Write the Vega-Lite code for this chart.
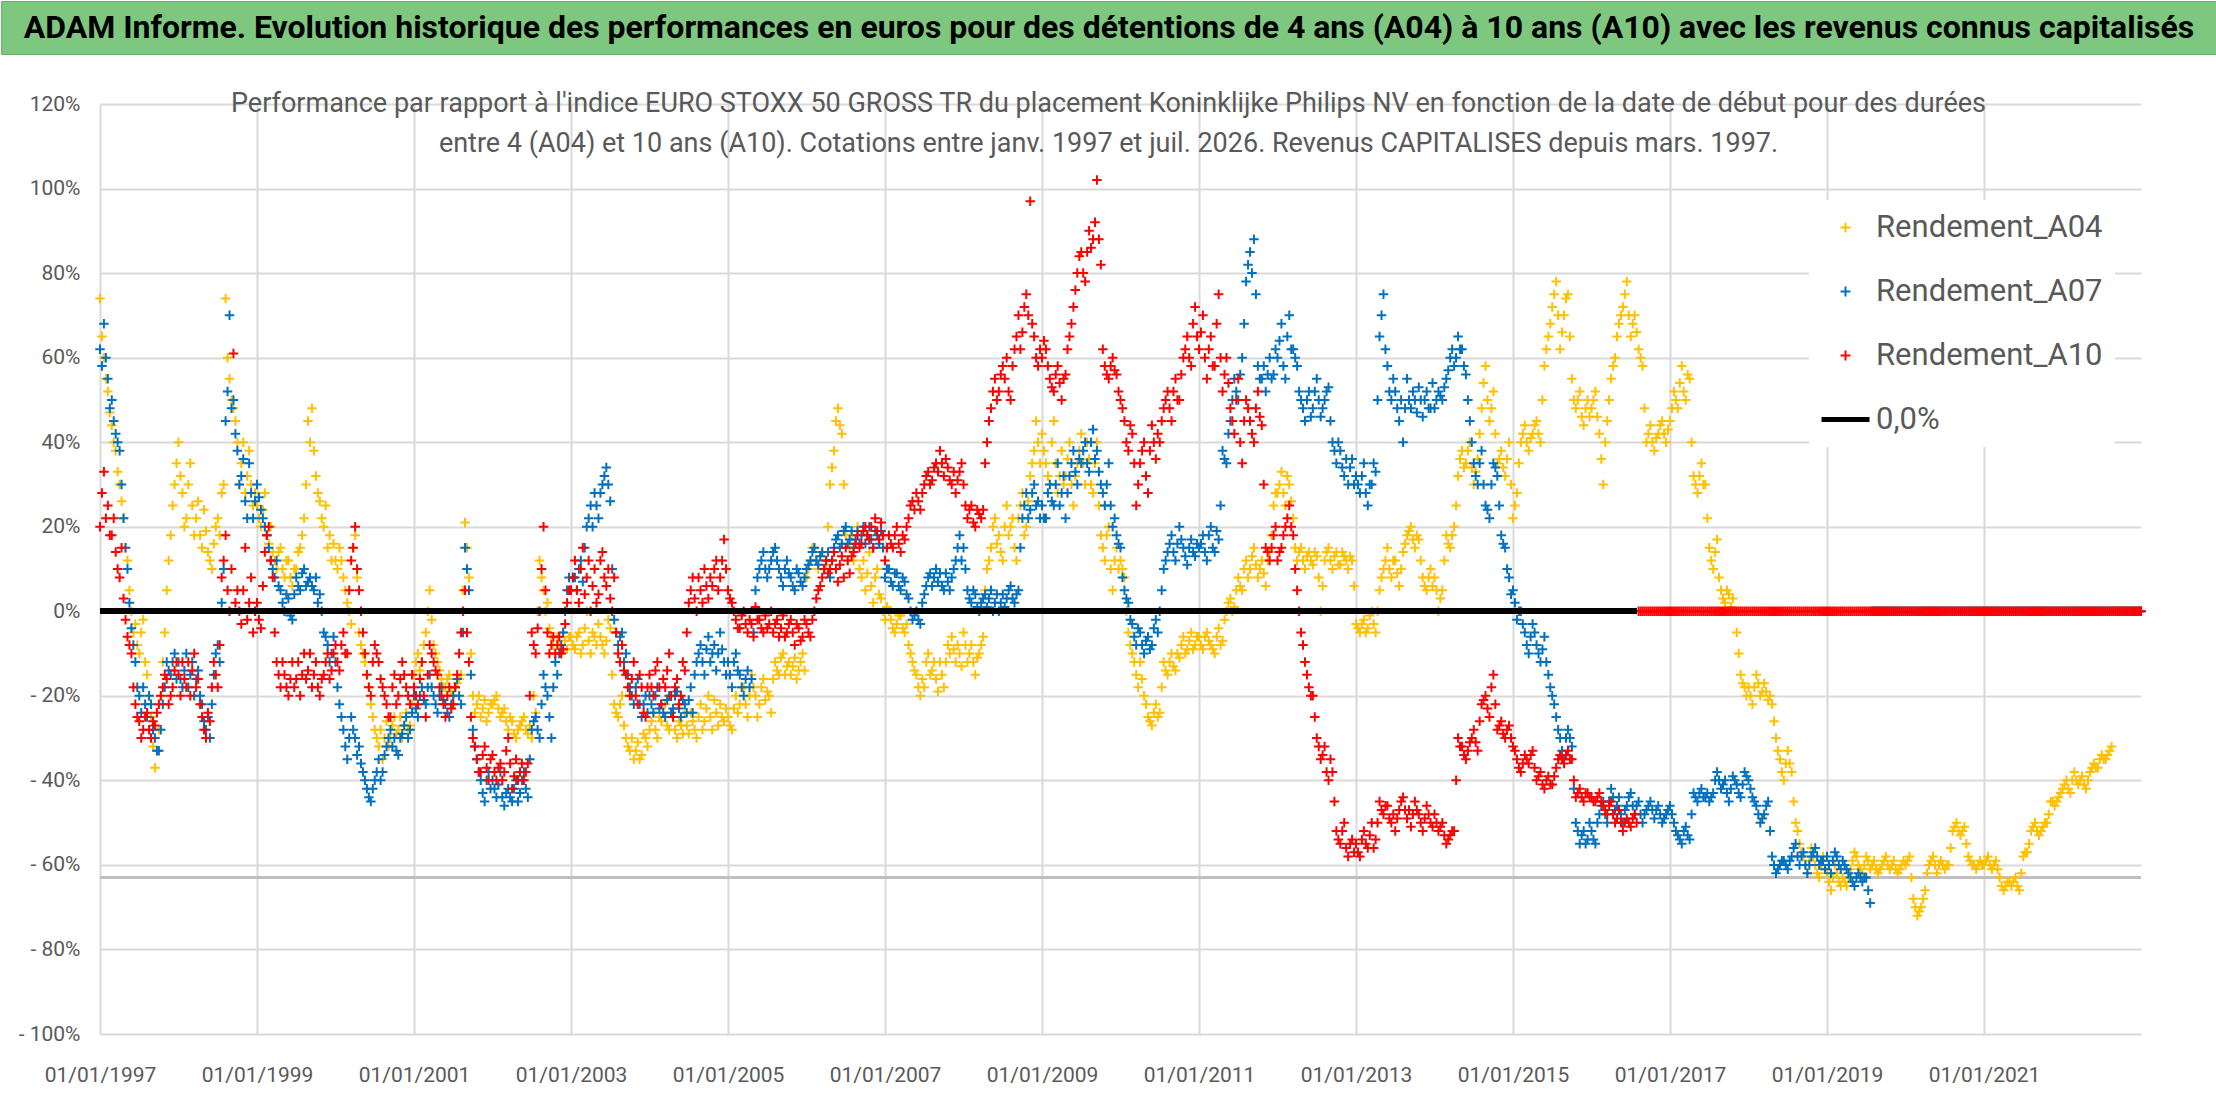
{
  "$schema": "https://vega.github.io/schema/vega-lite/v6.json",
  "padding": 0,
  "background": "white",
  "spacing": 50,
  "bounds": "flush",
  "config": {
    "view": {"stroke": null},
    "font": "Roboto",
    "axis": {"labelFont": "Roboto", "labelColor": "#595959", "labelFontSize": 21},
    "legend": {"labelFont": "Roboto"}
  },
  "vconcat": [
    {
      "width": 2216,
      "height": 53,
      "view": {"fill": "#7dc87e", "stroke": "#6bb36c"},
      "data": {"values": [{}]},
      "mark": {
        "type": "text",
        "text": "ADAM Informe. Evolution historique des performances en euros pour des détentions de 4 ans (A04) à 10 ans (A10) avec les revenus connus capitalisés",
        "font": "Roboto",
        "fontWeight": "bold",
        "fontSize": 32,
        "color": "#000000",
        "align": "center",
        "baseline": "middle"
      }
    },
    {
      "spacing": 0,
      "bounds": "flush",
      "hconcat": [
        {
          "width": 99,
          "height": 930,
          "data": {"values": [{}]},
          "mark": {"type": "text", "text": ""}
        },
        {
          "width": 2041,
          "height": 930,
          "title": {
            "text": [
              "Performance par rapport à l'indice EURO STOXX 50 GROSS TR  du placement Koninklijke Philips NV en fonction de la date de début pour des durées",
              "entre 4 (A04) et 10 ans (A10). Cotations entre janv. 1997 et juil. 2026. Revenus CAPITALISES depuis mars. 1997."
            ],
            "anchor": "middle",
            "frame": "group",
            "offset": -65,
            "dx": -12,
            "font": "Roboto",
            "fontSize": 27,
            "fontWeight": "normal",
            "color": "#595959",
            "lineHeight": 40
          },
          "data": {
            "values": [
              {"t":1997,"a":74,"b":62,"c":20},{"t":1997.05,"a":60,"b":68,"c":33},{"t":1997.1,"a":52,"b":55,"c":25},{"t":1997.15,"a":44,"b":50,"c":18},{"t":1997.2,"a":38,"b":42,"c":14},
              {"t":1997.25,"a":30,"b":38,"c":8},{"t":1997.3,"a":22,"b":22,"c":3},{"t":1997.35,"a":12,"b":10,"c":-6},{"t":1997.4,"a":0,"b":-4,"c":-10},{"t":1997.45,"a":-3,"b":-12,"c":-22},
              {"t":1997.5,"a":-10,"b":-20,"c":-26},{"t":1997.55,"a":-2,"b":-18,"c":-28},{"t":1997.6,"a":-15,"b":-25,"c":-24},{"t":1997.65,"a":-25,"b":-22,"c":-30},{"t":1997.7,"a":-37,"b":-30,"c":-27},
              {"t":1997.75,"a":-28,"b":-33,"c":-22},{"t":1997.8,"a":-12,"b":-22,"c":-18},{"t":1997.85,"a":5,"b":-12,"c":-16},{"t":1997.9,"a":18,"b":-15,"c":-20},{"t":1997.95,"a":30,"b":-10,"c":-14},
              {"t":1998,"a":40,"b":-12,"c":-15},{"t":1998.05,"a":28,"b":-18,"c":-12},{"t":1998.1,"a":22,"b":-10,"c":-18},{"t":1998.15,"a":35,"b":-15,"c":-20},{"t":1998.2,"a":18,"b":-20,"c":-10},
              {"t":1998.25,"a":26,"b":-14,"c":-16},{"t":1998.3,"a":15,"b":-22,"c":-25},{"t":1998.35,"a":19,"b":-28,"c":-30},{"t":1998.4,"a":12,"b":-30,"c":-26},{"t":1998.45,"a":16,"b":-15,"c":-12},
              {"t":1998.5,"a":22,"b":-8,"c":-18},{"t":1998.55,"a":28,"b":2,"c":8},{"t":1998.6,"a":74,"b":45,"c":18},{"t":1998.65,"a":55,"b":70,"c":0},{"t":1998.7,"a":48,"b":50,"c":61},
              {"t":1998.75,"a":40,"b":38,"c":5},{"t":1998.8,"a":35,"b":32,"c":-3},{"t":1998.85,"a":28,"b":26,"c":15},{"t":1998.9,"a":38,"b":35,"c":2},{"t":1998.95,"a":25,"b":22,"c":-5},
              {"t":1999,"a":25,"b":30,"c":2},{"t":1999.05,"a":20,"b":24,"c":-4},{"t":1999.1,"a":28,"b":20,"c":14},{"t":1999.15,"a":16,"b":15,"c":20},{"t":1999.2,"a":14,"b":10,"c":8},
              {"t":1999.25,"a":10,"b":12,"c":-12},{"t":1999.3,"a":15,"b":5,"c":-18},{"t":1999.35,"a":8,"b":0,"c":-15},{"t":1999.4,"a":12,"b":3,"c":-20},{"t":1999.45,"a":6,"b":-2,"c":-12},
              {"t":1999.5,"a":10,"b":8,"c":-16},{"t":1999.55,"a":15,"b":5,"c":-20},{"t":1999.6,"a":22,"b":10,"c":-10},{"t":1999.65,"a":45,"b":7,"c":-14},{"t":1999.7,"a":48,"b":6,"c":-18},
              {"t":1999.75,"a":32,"b":8,"c":-12},{"t":1999.8,"a":26,"b":4,"c":-20},{"t":1999.85,"a":20,"b":-5,"c":-15},{"t":1999.9,"a":15,"b":-8,"c":-10},{"t":1999.95,"a":12,"b":-10,"c":-14},
              {"t":2000,"a":12,"b":-12,"c":-8},{"t":2000.05,"a":15,"b":-22,"c":-14},{"t":2000.1,"a":8,"b":-28,"c":-5},{"t":2000.15,"a":2,"b":-35,"c":-10},{"t":2000.2,"a":-3,"b":-25,"c":12},
              {"t":2000.25,"a":18,"b":-30,"c":20},{"t":2000.3,"a":-5,"b":-32,"c":5},{"t":2000.35,"a":-10,"b":-38,"c":-5},{"t":2000.4,"a":-15,"b":-42,"c":-15},{"t":2000.45,"a":-22,"b":-45,"c":-20},
              {"t":2000.5,"a":-28,"b":-40,"c":-8},{"t":2000.55,"a":-32,"b":-35,"c":-12},{"t":2000.6,"a":-35,"b":-38,"c":-18},{"t":2000.65,"a":-26,"b":-32,"c":-22},{"t":2000.7,"a":-30,"b":-28,"c":-25},
              {"t":2000.75,"a":-25,"b":-30,"c":-15},{"t":2000.8,"a":-28,"b":-34,"c":-20},{"t":2000.85,"a":-30,"b":-29,"c":-12},{"t":2000.9,"a":-24,"b":-25,"c":-18},{"t":2000.95,"a":-27,"b":-28,"c":-22},
              {"t":2001,"a":-15,"b":-20,"c":-18},{"t":2001.05,"a":-10,"b":-25,"c":-22},{"t":2001.1,"a":-12,"b":-18,"c":-12},{"t":2001.15,"a":-5,"b":-22,"c":-25},{"t":2001.2,"a":5,"b":-15,"c":-8},
              {"t":2001.25,"a":-8,"b":-20,"c":-12},{"t":2001.3,"a":-12,"b":-24,"c":-15},{"t":2001.35,"a":-16,"b":-18,"c":-20},{"t":2001.4,"a":-18,"b":-22,"c":-25},{"t":2001.45,"a":-15,"b":-25,"c":-18},
              {"t":2001.5,"a":-20,"b":-20,"c":-22},{"t":2001.55,"a":-17,"b":-16,"c":-15},{"t":2001.6,"a":-15,"b":-22,"c":-5},{"t":2001.65,"a":21,"b":15,"c":5},{"t":2001.7,"a":8,"b":5,"c":-12},
              {"t":2001.75,"a":-20,"b":-28,"c":-30},{"t":2001.8,"a":-22,"b":-35,"c":-35},{"t":2001.85,"a":-25,"b":-40,"c":-38},{"t":2001.9,"a":-21,"b":-45,"c":-32},{"t":2001.95,"a":-24,"b":-38,"c":-40},
              {"t":2002,"a":-22,"b":-40,"c":-34},{"t":2002.05,"a":-20,"b":-44,"c":-40},{"t":2002.1,"a":-25,"b":-38,"c":-36},{"t":2002.15,"a":-23,"b":-46,"c":-38},{"t":2002.2,"a":-28,"b":-42,"c":-30},
              {"t":2002.25,"a":-26,"b":-45,"c":-42},{"t":2002.3,"a":-30,"b":-40,"c":-35},{"t":2002.35,"a":-27,"b":-43,"c":-38},{"t":2002.4,"a":-25,"b":-38,"c":-40},{"t":2002.45,"a":-29,"b":-44,"c":-36},
              {"t":2002.5,"a":-30,"b":-28,"c":-5},{"t":2002.55,"a":-24,"b":-25,"c":-10},{"t":2002.6,"a":12,"b":-30,"c":0},{"t":2002.65,"a":5,"b":-15,"c":20},{"t":2002.7,"a":2,"b":-20,"c":-5},
              {"t":2002.75,"a":-6,"b":-30,"c":-8},{"t":2002.8,"a":-10,"b":-12,"c":-10},{"t":2002.85,"a":-8,"b":-10,"c":-6},{"t":2002.9,"a":-5,"b":-5,"c":-9},{"t":2002.95,"a":-9,"b":5,"c":2},
              {"t":2003,"a":-6,"b":5,"c":5},{"t":2003.05,"a":-9,"b":8,"c":12},{"t":2003.1,"a":-5,"b":10,"c":2},{"t":2003.15,"a":-8,"b":7,"c":15},{"t":2003.2,"a":0,"b":20,"c":8},
              {"t":2003.25,"a":-10,"b":25,"c":0},{"t":2003.3,"a":-6,"b":28,"c":10},{"t":2003.35,"a":-3,"b":22,"c":4},{"t":2003.4,"a":-8,"b":30,"c":14},{"t":2003.45,"a":-7,"b":34,"c":6},
              {"t":2003.5,"a":-4,"b":26,"c":3},{"t":2003.55,"a":-22,"b":-2,"c":8},{"t":2003.6,"a":-25,"b":-8,"c":-10},{"t":2003.65,"a":-20,"b":-5,"c":-8},{"t":2003.7,"a":-30,"b":-10,"c":-15},
              {"t":2003.75,"a":-33,"b":-18,"c":-20},{"t":2003.8,"a":-35,"b":-22,"c":-12},{"t":2003.85,"a":-31,"b":-16,"c":-22},{"t":2003.9,"a":-34,"b":-25,"c":-18},{"t":2003.95,"a":-30,"b":-20,"c":-25},
              {"t":2004,"a":-28,"b":-20,"c":-15},{"t":2004.05,"a":-24,"b":-24,"c":-20},{"t":2004.1,"a":-30,"b":-18,"c":-12},{"t":2004.15,"a":-26,"b":-22,"c":-22},{"t":2004.2,"a":-22,"b":-25,"c":-18},
              {"t":2004.25,"a":-28,"b":-20,"c":-10},{"t":2004.3,"a":-25,"b":-23,"c":-25},{"t":2004.35,"a":-30,"b":-19,"c":-16},{"t":2004.4,"a":-27,"b":-25,"c":-20},{"t":2004.45,"a":-24,"b":-22,"c":-14},
              {"t":2004.5,"a":-29,"b":-21,"c":2},{"t":2004.55,"a":-26,"b":-24,"c":8},{"t":2004.6,"a":-30,"b":-12,"c":0},{"t":2004.65,"a":-22,"b":-8,"c":5},{"t":2004.7,"a":-26,"b":-15,"c":10},
              {"t":2004.75,"a":-20,"b":-6,"c":3},{"t":2004.8,"a":-28,"b":-10,"c":6},{"t":2004.85,"a":-24,"b":-14,"c":12},{"t":2004.9,"a":-22,"b":-5,"c":8},{"t":2004.95,"a":-26,"b":-12,"c":17},
              {"t":2005,"a":-25,"b":-12,"c":5},{"t":2005.05,"a":-28,"b":-18,"c":2},{"t":2005.1,"a":-20,"b":-10,"c":-2},{"t":2005.15,"a":-22,"b":-15,"c":-4},{"t":2005.2,"a":-18,"b":-20,"c":0},
              {"t":2005.25,"a":-25,"b":-14,"c":-5},{"t":2005.3,"a":-15,"b":-16,"c":-3},{"t":2005.35,"a":-20,"b":5,"c":1},{"t":2005.4,"a":-22,"b":10,"c":-2},{"t":2005.45,"a":-16,"b":14,"c":-5},
              {"t":2005.5,"a":-19,"b":8,"c":-4},{"t":2005.55,"a":-24,"b":12,"c":0},{"t":2005.6,"a":-12,"b":15,"c":-3},{"t":2005.65,"a":-15,"b":10,"c":-6},{"t":2005.7,"a":-10,"b":6,"c":-1},
              {"t":2005.75,"a":-13,"b":12,"c":-5},{"t":2005.8,"a":-15,"b":8,"c":-2},{"t":2005.85,"a":-11,"b":5,"c":-8},{"t":2005.9,"a":-14,"b":9,"c":-4},{"t":2005.95,"a":-10,"b":6,"c":-6},
              {"t":2006,"a":8,"b":10,"c":-3},{"t":2006.05,"a":12,"b":12,"c":-6},{"t":2006.1,"a":15,"b":15,"c":0},{"t":2006.15,"a":10,"b":11,"c":5},{"t":2006.2,"a":14,"b":14,"c":8},
              {"t":2006.25,"a":11,"b":12,"c":12},{"t":2006.3,"a":30,"b":8,"c":10},{"t":2006.35,"a":38,"b":15,"c":14},{"t":2006.4,"a":48,"b":18,"c":7},{"t":2006.45,"a":42,"b":16,"c":13},
              {"t":2006.5,"a":18,"b":20,"c":15},{"t":2006.55,"a":15,"b":17,"c":9},{"t":2006.6,"a":12,"b":15,"c":14},{"t":2006.65,"a":20,"b":19,"c":18},{"t":2006.7,"a":8,"b":18,"c":16},
              {"t":2006.75,"a":5,"b":16,"c":20},{"t":2006.8,"a":14,"b":20,"c":17},{"t":2006.85,"a":2,"b":15,"c":15},{"t":2006.9,"a":10,"b":18,"c":19},{"t":2006.95,"a":3,"b":19,"c":21},
              {"t":2007,"a":-2,"b":8,"c":12},{"t":2007.05,"a":0,"b":10,"c":18},{"t":2007.1,"a":-4,"b":6,"c":15},{"t":2007.15,"a":-3,"b":9,"c":20},{"t":2007.2,"a":-1,"b":5,"c":14},
              {"t":2007.25,"a":-5,"b":7,"c":17},{"t":2007.3,"a":-8,"b":3,"c":22},{"t":2007.35,"a":-12,"b":-2,"c":26},{"t":2007.4,"a":-15,"b":0,"c":28},{"t":2007.45,"a":-20,"b":-3,"c":24},
              {"t":2007.5,"a":-18,"b":4,"c":30},{"t":2007.55,"a":-10,"b":8,"c":33},{"t":2007.6,"a":-14,"b":6,"c":31},{"t":2007.65,"a":-16,"b":10,"c":35},{"t":2007.7,"a":-12,"b":9,"c":38},
              {"t":2007.75,"a":-18,"b":5,"c":32},{"t":2007.8,"a":-8,"b":7,"c":34},{"t":2007.85,"a":-6,"b":8,"c":30},{"t":2007.9,"a":-12,"b":12,"c":28},{"t":2007.95,"a":-10,"b":18,"c":33},
              {"t":2008,"a":-5,"b":15,"c":30},{"t":2008.05,"a":-12,"b":5,"c":22},{"t":2008.1,"a":-8,"b":2,"c":25},{"t":2008.15,"a":-15,"b":4,"c":20},{"t":2008.2,"a":-10,"b":0,"c":23},
              {"t":2008.25,"a":-6,"b":3,"c":24},{"t":2008.3,"a":10,"b":1,"c":40},{"t":2008.35,"a":15,"b":5,"c":48},{"t":2008.4,"a":22,"b":2,"c":55},{"t":2008.45,"a":18,"b":0,"c":52},
              {"t":2008.5,"a":12,"b":4,"c":58},{"t":2008.55,"a":25,"b":3,"c":60},{"t":2008.6,"a":20,"b":6,"c":50},{"t":2008.65,"a":15,"b":2,"c":62},{"t":2008.7,"a":22,"b":5,"c":70},
              {"t":2008.75,"a":28,"b":22,"c":66},{"t":2008.8,"a":20,"b":28,"c":75},{"t":2008.85,"a":32,"b":24,"c":97},{"t":2008.9,"a":38,"b":30,"c":65},{"t":2008.95,"a":40,"b":26,"c":58},
              {"t":2009,"a":42,"b":25,"c":60},{"t":2009.05,"a":35,"b":22,"c":62},{"t":2009.1,"a":30,"b":30,"c":55},{"t":2009.15,"a":45,"b":25,"c":52},{"t":2009.2,"a":28,"b":35,"c":58},
              {"t":2009.25,"a":38,"b":28,"c":50},{"t":2009.3,"a":32,"b":22,"c":56},{"t":2009.35,"a":40,"b":32,"c":65},{"t":2009.4,"a":25,"b":38,"c":72},{"t":2009.45,"a":35,"b":30,"c":80},
              {"t":2009.5,"a":42,"b":35,"c":85},{"t":2009.55,"a":30,"b":40,"c":78},{"t":2009.6,"a":36,"b":33,"c":90},{"t":2009.65,"a":28,"b":43,"c":88},{"t":2009.7,"a":40,"b":38,"c":102},
              {"t":2009.75,"a":18,"b":30,"c":82},{"t":2009.8,"a":12,"b":25,"c":58},{"t":2009.85,"a":20,"b":35,"c":55},{"t":2009.9,"a":5,"b":20,"c":60},{"t":2009.95,"a":15,"b":18,"c":56},
              {"t":2010,"a":12,"b":15,"c":50},{"t":2010.05,"a":8,"b":5,"c":45},{"t":2010.1,"a":-5,"b":2,"c":38},{"t":2010.15,"a":-10,"b":-3,"c":42},{"t":2010.2,"a":-15,"b":-8,"c":25},
              {"t":2010.25,"a":-12,"b":-5,"c":35},{"t":2010.3,"a":-20,"b":-10,"c":40},{"t":2010.35,"a":-25,"b":-6,"c":28},{"t":2010.4,"a":-27,"b":-8,"c":44},{"t":2010.45,"a":-22,"b":-2,"c":36},
              {"t":2010.5,"a":-24,"b":0,"c":40},{"t":2010.55,"a":-12,"b":10,"c":48},{"t":2010.6,"a":-15,"b":14,"c":52},{"t":2010.65,"a":-10,"b":18,"c":45},{"t":2010.7,"a":-14,"b":12,"c":55},
              {"t":2010.75,"a":-11,"b":20,"c":50},{"t":2010.8,"a":-6,"b":15,"c":60},{"t":2010.85,"a":-9,"b":11,"c":65},{"t":2010.9,"a":-5,"b":17,"c":58},{"t":2010.95,"a":-8,"b":13,"c":72},
              {"t":2011,"a":-6,"b":15,"c":62},{"t":2011.05,"a":-9,"b":18,"c":70},{"t":2011.1,"a":-5,"b":12,"c":55},{"t":2011.15,"a":-8,"b":20,"c":65},{"t":2011.2,"a":-10,"b":14,"c":58},
              {"t":2011.25,"a":-4,"b":17,"c":75},{"t":2011.3,"a":-7,"b":38,"c":52},{"t":2011.35,"a":0,"b":35,"c":60},{"t":2011.4,"a":3,"b":45,"c":48},{"t":2011.45,"a":1,"b":55,"c":42},
              {"t":2011.5,"a":8,"b":50,"c":55},{"t":2011.55,"a":5,"b":60,"c":35},{"t":2011.6,"a":12,"b":78,"c":50},{"t":2011.65,"a":10,"b":85,"c":45},{"t":2011.7,"a":15,"b":88,"c":40},
              {"t":2011.75,"a":8,"b":58,"c":52},{"t":2011.8,"a":12,"b":55,"c":44},{"t":2011.85,"a":6,"b":52,"c":15},{"t":2011.9,"a":14,"b":60,"c":12},{"t":2011.95,"a":25,"b":56,"c":18},
              {"t":2012,"a":28,"b":60,"c":12},{"t":2012.05,"a":33,"b":68,"c":15},{"t":2012.1,"a":25,"b":55,"c":20},{"t":2012.15,"a":30,"b":70,"c":25},{"t":2012.2,"a":22,"b":62,"c":18},
              {"t":2012.25,"a":12,"b":58,"c":5},{"t":2012.3,"a":15,"b":50,"c":-5},{"t":2012.35,"a":10,"b":45,"c":-12},{"t":2012.4,"a":14,"b":52,"c":-18},{"t":2012.45,"a":11,"b":48,"c":-20},
              {"t":2012.5,"a":13,"b":55,"c":-30},{"t":2012.55,"a":0,"b":46,"c":-35},{"t":2012.6,"a":12,"b":50,"c":-32},{"t":2012.65,"a":15,"b":53,"c":-40},{"t":2012.7,"a":10,"b":40,"c":-38},
              {"t":2012.75,"a":14,"b":35,"c":-52},{"t":2012.8,"a":11,"b":38,"c":-55},{"t":2012.85,"a":13,"b":32,"c":-50},{"t":2012.9,"a":10,"b":30,"c":-58},{"t":2012.95,"a":12,"b":36,"c":-54},
              {"t":2013,"a":-3,"b":32,"c":-55},{"t":2013.05,"a":-5,"b":28,"c":-58},{"t":2013.1,"a":-2,"b":35,"c":-52},{"t":2013.15,"a":-4,"b":25,"c":-56},{"t":2013.2,"a":0,"b":30,"c":-50},
              {"t":2013.25,"a":-5,"b":33,"c":-54},{"t":2013.3,"a":5,"b":65,"c":-45},{"t":2013.35,"a":10,"b":75,"c":-48},{"t":2013.4,"a":15,"b":58,"c":-46},{"t":2013.45,"a":8,"b":50,"c":-50},
              {"t":2013.5,"a":12,"b":52,"c":-52},{"t":2013.55,"a":6,"b":45,"c":-47},{"t":2013.6,"a":14,"b":40,"c":-44},{"t":2013.65,"a":18,"b":55,"c":-49},{"t":2013.7,"a":20,"b":48,"c":-51},
              {"t":2013.75,"a":15,"b":50,"c":-45},{"t":2013.8,"a":17,"b":53,"c":-48},{"t":2013.85,"a":8,"b":46,"c":-52},{"t":2013.9,"a":5,"b":52,"c":-46},{"t":2013.95,"a":10,"b":48,"c":-50},
              {"t":2014,"a":8,"b":48,"c":-48},{"t":2014.05,"a":0,"b":52,"c":-52},{"t":2014.1,"a":5,"b":50,"c":-50},{"t":2014.15,"a":18,"b":55,"c":-55},{"t":2014.2,"a":15,"b":60,"c":-53},
              {"t":2014.25,"a":20,"b":58,"c":-52},{"t":2014.3,"a":32,"b":65,"c":-30},{"t":2014.35,"a":38,"b":62,"c":-32},{"t":2014.4,"a":35,"b":56,"c":-35},{"t":2014.45,"a":40,"b":45,"c":-31},
              {"t":2014.5,"a":30,"b":35,"c":-28},{"t":2014.55,"a":36,"b":30,"c":-33},{"t":2014.6,"a":48,"b":38,"c":-22},{"t":2014.65,"a":58,"b":25,"c":-20},{"t":2014.7,"a":45,"b":22,"c":-25},
              {"t":2014.75,"a":52,"b":35,"c":-15},{"t":2014.8,"a":35,"b":32,"c":-28},{"t":2014.85,"a":38,"b":18,"c":-26},{"t":2014.9,"a":32,"b":15,"c":-30},{"t":2014.95,"a":40,"b":8,"c":-27},
              {"t":2015,"a":22,"b":5,"c":-32},{"t":2015.05,"a":28,"b":-2,"c":-35},{"t":2015.1,"a":40,"b":0,"c":-38},{"t":2015.15,"a":44,"b":-5,"c":-34},{"t":2015.2,"a":38,"b":-10,"c":-36},
              {"t":2015.25,"a":42,"b":-3,"c":-33},{"t":2015.3,"a":45,"b":-8,"c":-40},{"t":2015.35,"a":40,"b":-12,"c":-38},{"t":2015.4,"a":58,"b":-6,"c":-42},{"t":2015.45,"a":65,"b":-15,"c":-39},
              {"t":2015.5,"a":72,"b":-20,"c":-41},{"t":2015.55,"a":78,"b":-25,"c":-37},{"t":2015.6,"a":62,"b":-30,"c":-34},{"t":2015.65,"a":70,"b":-35,"c":-36},{"t":2015.7,"a":75,"b":-28,"c":-33},
              {"t":2015.75,"a":55,"b":-32,"c":-35},{"t":2015.8,"a":48,"b":-50,"c":-44},{"t":2015.85,"a":52,"b":-55,"c":-42},{"t":2015.9,"a":44,"b":-52,"c":-45},{"t":2015.95,"a":50,"b":-54,"c":-43},
              {"t":2016,"a":48,"b":-52,"c":-44},{"t":2016.05,"a":52,"b":-55,"c":-45},{"t":2016.1,"a":42,"b":-48,"c":-43},{"t":2016.15,"a":30,"b":-45,"c":-46},{"t":2016.2,"a":45,"b":-50,"c":-48},
              {"t":2016.25,"a":55,"b":-42,"c":-45},{"t":2016.3,"a":60,"b":-47,"c":-50},{"t":2016.35,"a":68,"b":-44,"c":-47},{"t":2016.4,"a":72,"b":-50,"c":-52},{"t":2016.45,"a":78,"b":-46,"c":-49},
              {"t":2016.5,"a":65,"b":-43,"c":-51},{"t":2016.55,"a":70,"b":-48,"c":-48},{"t":2016.6,"a":62,"b":-45,"c":0},{"t":2016.65,"a":58,"b":-50,"c":0},{"t":2016.7,"a":40,"b":-47,"c":0},
              {"t":2016.75,"a":44,"b":-45,"c":0},{"t":2016.8,"a":38,"b":-49,"c":0},{"t":2016.85,"a":42,"b":-46,"c":0},{"t":2016.9,"a":45,"b":-50,"c":0},{"t":2016.95,"a":40,"b":-48,"c":0},
              {"t":2017,"a":45,"b":-46,"c":0},{"t":2017.05,"a":52,"b":-50,"c":0},{"t":2017.1,"a":48,"b":-53,"c":0},{"t":2017.15,"a":58,"b":-55,"c":0},{"t":2017.2,"a":50,"b":-51,"c":0},
              {"t":2017.25,"a":55,"b":-54,"c":0},{"t":2017.3,"a":32,"b":-43,"c":0},{"t":2017.35,"a":28,"b":-45,"c":0},{"t":2017.4,"a":35,"b":-42,"c":0},{"t":2017.45,"a":30,"b":-44,"c":0},
              {"t":2017.5,"a":15,"b":-45,"c":0},{"t":2017.55,"a":10,"b":-43,"c":0},{"t":2017.6,"a":17,"b":-38,"c":0},{"t":2017.65,"a":5,"b":-42,"c":0},{"t":2017.7,"a":2,"b":-40,"c":0},
              {"t":2017.75,"a":4,"b":-45,"c":0},{"t":2017.8,"a":3,"b":-39,"c":0},{"t":2017.85,"a":-5,"b":-41,"c":0},{"t":2017.9,"a":-15,"b":-44,"c":0},{"t":2017.95,"a":-18,"b":-38,"c":0},
              {"t":2018,"a":-18,"b":-40,"c":0},{"t":2018.05,"a":-22,"b":-44,"c":0},{"t":2018.1,"a":-15,"b":-46,"c":0},{"t":2018.15,"a":-20,"b":-50,"c":0},{"t":2018.2,"a":-17,"b":-48,"c":0},
              {"t":2018.25,"a":-21,"b":-45,"c":0},{"t":2018.3,"a":-22,"b":-58,"c":0},{"t":2018.35,"a":-30,"b":-62,"c":0},{"t":2018.4,"a":-35,"b":-60,"c":0},{"t":2018.45,"a":-40,"b":-59,"c":0},
              {"t":2018.5,"a":-33,"b":-61,"c":0},{"t":2018.55,"a":-38,"b":-58,"c":0},{"t":2018.6,"a":-50,"b":-55,"c":0},{"t":2018.65,"a":-55,"b":-60,"c":0},{"t":2018.7,"a":-58,"b":-57,"c":0},
              {"t":2018.75,"a":-62,"b":-62,"c":0},{"t":2018.8,"a":-56,"b":-58,"c":0},{"t":2018.85,"a":-60,"b":-56,"c":0},{"t":2018.9,"a":-63,"b":-60,"c":0},{"t":2018.95,"a":-58,"b":-59,"c":0},
              {"t":2019,"a":-62,"b":-58,"c":0},{"t":2019.05,"a":-66,"b":-62,"c":0},{"t":2019.1,"a":-60,"b":-57,"c":0},{"t":2019.15,"a":-64,"b":-60,"c":0},{"t":2019.2,"a":-63,"b":-59,"c":0},
              {"t":2019.25,"a":-65,"b":-61,"c":0},{"t":2019.3,"a":-61,"b":-63,"c":0},{"t":2019.35,"a":-57,"b":-65,"c":0},{"t":2019.4,"a":-60,"b":-62,"c":0},{"t":2019.45,"a":-62,"b":-64,"c":0},
              {"t":2019.5,"a":-58,"b":-63,"c":0},{"t":2019.55,"a":-61,"b":-69,"c":0},{"t":2019.6,"a":-59,"b":0,"c":0},{"t":2019.65,"a":-62,"b":0,"c":0},{"t":2019.7,"a":-60,"b":0,"c":0},
              {"t":2019.75,"a":-58,"b":0,"c":0},{"t":2019.8,"a":-61,"b":0,"c":0},{"t":2019.85,"a":-59,"b":0,"c":0},{"t":2019.9,"a":-62,"b":0,"c":0},{"t":2019.95,"a":-60,"b":0,"c":0},
              {"t":2020,"a":-60,"b":0,"c":0},{"t":2020.05,"a":-58,"b":0,"c":0},{"t":2020.1,"a":-68,"b":0,"c":0},{"t":2020.15,"a":-72,"b":0,"c":0},{"t":2020.2,"a":-70,"b":0,"c":0},
              {"t":2020.25,"a":-66,"b":0,"c":0},{"t":2020.3,"a":-60,"b":0,"c":0},{"t":2020.35,"a":-58,"b":0,"c":0},{"t":2020.4,"a":-62,"b":0,"c":0},{"t":2020.45,"a":-59,"b":0,"c":0},
              {"t":2020.5,"a":-61,"b":0,"c":0},{"t":2020.55,"a":-60,"b":0,"c":0},{"t":2020.6,"a":-52,"b":0,"c":0},{"t":2020.65,"a":-50,"b":0,"c":0},{"t":2020.7,"a":-53,"b":0,"c":0},
              {"t":2020.75,"a":-51,"b":0,"c":0},{"t":2020.8,"a":-58,"b":0,"c":0},{"t":2020.85,"a":-60,"b":0,"c":0},{"t":2020.9,"a":-61,"b":0,"c":0},{"t":2020.95,"a":-59,"b":0,"c":0},
              {"t":2021,"a":-60,"b":0,"c":0},{"t":2021.05,"a":-58,"b":0,"c":0},{"t":2021.1,"a":-61,"b":0,"c":0},{"t":2021.15,"a":-59,"b":0,"c":0},{"t":2021.2,"a":-63,"b":0,"c":0},
              {"t":2021.25,"a":-66,"b":0,"c":0},{"t":2021.3,"a":-64,"b":0,"c":0},{"t":2021.35,"a":-65,"b":0,"c":0},{"t":2021.4,"a":-63,"b":0,"c":0},{"t":2021.45,"a":-66,"b":0,"c":0},
              {"t":2021.5,"a":-58,"b":0,"c":0},{"t":2021.55,"a":-57,"b":0,"c":0},{"t":2021.6,"a":-52,"b":0,"c":0},{"t":2021.65,"a":-50,"b":0,"c":0},{"t":2021.7,"a":-53,"b":0,"c":0},
              {"t":2021.75,"a":-51,"b":0,"c":0},{"t":2021.8,"a":-50,"b":0,"c":0},{"t":2021.85,"a":-45,"b":0,"c":0},{"t":2021.9,"a":-46,"b":0,"c":0},{"t":2021.95,"a":-44,"b":0,"c":0},
              {"t":2022,"a":-42,"b":0,"c":0},{"t":2022.05,"a":-40,"b":0,"c":0},{"t":2022.1,"a":-43,"b":0,"c":0},{"t":2022.15,"a":-38,"b":0,"c":0},{"t":2022.2,"a":-41,"b":0,"c":0},
              {"t":2022.25,"a":-39,"b":0,"c":0},{"t":2022.3,"a":-42,"b":0,"c":0},{"t":2022.35,"a":-38,"b":0,"c":0},{"t":2022.4,"a":-36,"b":0,"c":0},{"t":2022.45,"a":-37,"b":0,"c":0},
              {"t":2022.5,"a":-34,"b":0,"c":0},{"t":2022.55,"a":-35,"b":0,"c":0},{"t":2022.6,"a":-33,"b":0,"c":0},{"t":2022.65,"a":0,"b":0,"c":0},{"t":2022.7,"a":0,"b":0,"c":0},
              {"t":2022.75,"a":0,"b":0,"c":0},{"t":2022.8,"a":0,"b":0,"c":0},{"t":2022.85,"a":0,"b":0,"c":0},{"t":2022.9,"a":0,"b":0,"c":0},{"t":2022.95,"a":0,"b":0,"c":0},
              {"t":2023,"a":0,"b":0,"c":0},

              {"t":1997.025,"a":65,"b":58,"c":28},{"t":1997.075,"a":55,"b":60,"c":22},{"t":1997.125,"a":47,"b":48,"c":18},{"t":1997.175,"a":40,"b":45,"c":22},{"t":1997.225,"a":33,"b":40,"c":10},
              {"t":1997.275,"a":26,"b":30,"c":15},{"t":1997.325,"a":15,"b":15,"c":-2},{"t":1997.375,"a":5,"b":2,"c":-8},{"t":1997.425,"a":-5,"b":-8,"c":-18},{"t":1997.475,"a":-8,"b":-18,"c":-25},
              {"t":1997.525,"a":-5,"b":-24,"c":-30},{"t":1997.575,"a":-12,"b":-22,"c":-25},{"t":1997.625,"a":-20,"b":-20,"c":-28},{"t":1997.675,"a":-32,"b":-28,"c":-26},{"t":1997.725,"a":-33,"b":-33,"c":-24},
              {"t":1997.775,"a":-20,"b":-28,"c":-20},{"t":1997.825,"a":-5,"b":-18,"c":-15},{"t":1997.875,"a":12,"b":-14,"c":-22},{"t":1997.925,"a":25,"b":-12,"c":-18},{"t":1997.975,"a":35,"b":-16,"c":-12},
              {"t":1998.025,"a":32,"b":-16,"c":-20},{"t":1998.075,"a":20,"b":-14,"c":-16},{"t":1998.125,"a":30,"b":-18,"c":-12},{"t":1998.175,"a":25,"b":-12,"c":-14},{"t":1998.225,"a":22,"b":-16,"c":-18},
              {"t":1998.275,"a":18,"b":-20,"c":-22},{"t":1998.325,"a":24,"b":-26,"c":-28},{"t":1998.375,"a":14,"b":-25,"c":-24},{"t":1998.425,"a":10,"b":-22,"c":-18},{"t":1998.475,"a":20,"b":-10,"c":-15},
              {"t":1998.525,"a":18,"b":-12,"c":-8},{"t":1998.575,"a":30,"b":10,"c":12},{"t":1998.625,"a":60,"b":52,"c":5},{"t":1998.675,"a":50,"b":48,"c":10},{"t":1998.725,"a":45,"b":42,"c":2},
              {"t":1998.775,"a":30,"b":30,"c":0},{"t":1998.825,"a":40,"b":36,"c":5},{"t":1998.875,"a":32,"b":22,"c":-2},{"t":1998.925,"a":30,"b":28,"c":8},{"t":1998.975,"a":28,"b":26,"c":0},
              {"t":1999.025,"a":22,"b":27,"c":-2},{"t":1999.075,"a":24,"b":22,"c":6},{"t":1999.125,"a":18,"b":18,"c":18},{"t":1999.175,"a":20,"b":12,"c":12},{"t":1999.225,"a":12,"b":8,"c":-5},
              {"t":1999.275,"a":14,"b":6,"c":-15},{"t":1999.325,"a":10,"b":2,"c":-12},{"t":1999.375,"a":12,"b":4,"c":-18},{"t":1999.425,"a":8,"b":-1,"c":-16},{"t":1999.475,"a":10,"b":4,"c":-18},
              {"t":1999.525,"a":14,"b":6,"c":-12},{"t":1999.575,"a":18,"b":9,"c":-15},{"t":1999.625,"a":30,"b":6,"c":-16},{"t":1999.675,"a":40,"b":8,"c":-10},{"t":1999.725,"a":38,"b":5,"c":-15},
              {"t":1999.775,"a":28,"b":2,"c":-18},{"t":1999.825,"a":22,"b":0,"c":-16},{"t":1999.875,"a":25,"b":-6,"c":-12},{"t":1999.925,"a":18,"b":-12,"c":-16},{"t":1999.975,"a":16,"b":-6,"c":-10},
              {"t":2000.025,"a":10,"b":-18,"c":-12},{"t":2000.075,"a":12,"b":-25,"c":-8},{"t":2000.125,"a":5,"b":-32,"c":-10},{"t":2000.175,"a":0,"b":-30,"c":5},{"t":2000.225,"a":15,"b":-28,"c":15},
              {"t":2000.275,"a":8,"b":-34,"c":10},{"t":2000.325,"a":-8,"b":-36,"c":0},{"t":2000.375,"a":-12,"b":-40,"c":-10},{"t":2000.425,"a":-18,"b":-44,"c":-18},{"t":2000.475,"a":-25,"b":-42,"c":-12},
              {"t":2000.525,"a":-30,"b":-38,"c":-10},{"t":2000.575,"a":-28,"b":-40,"c":-16},{"t":2000.625,"a":-30,"b":-34,"c":-20},{"t":2000.675,"a":-32,"b":-30,"c":-25},{"t":2000.725,"a":-27,"b":-32,"c":-18},
              {"t":2000.775,"a":-29,"b":-33,"c":-22},{"t":2000.825,"a":-25,"b":-30,"c":-16},{"t":2000.875,"a":-27,"b":-27,"c":-15},{"t":2000.925,"a":-28,"b":-30,"c":-20},{"t":2000.975,"a":-22,"b":-24,"c":-15},
              {"t":2001.025,"a":-12,"b":-23,"c":-20},{"t":2001.075,"a":-14,"b":-20,"c":-16},{"t":2001.125,"a":-8,"b":-21,"c":-20},{"t":2001.175,"a":0,"b":-18,"c":-15},{"t":2001.225,"a":-2,"b":-18,"c":-10},
              {"t":2001.275,"a":-10,"b":-22,"c":-14},{"t":2001.325,"a":-14,"b":-20,"c":-18},{"t":2001.375,"a":-18,"b":-21,"c":-22},{"t":2001.425,"a":-16,"b":-24,"c":-20},{"t":2001.475,"a":-19,"b":-22,"c":-23},
              {"t":2001.525,"a":-18,"b":-18,"c":-18},{"t":2001.575,"a":-16,"b":-20,"c":-10},{"t":2001.625,"a":5,"b":-5,"c":0},{"t":2001.675,"a":15,"b":10,"c":-5},{"t":2001.725,"a":-10,"b":-15,"c":-25},
              {"t":2001.775,"a":-24,"b":-32,"c":-32},{"t":2001.825,"a":-20,"b":-38,"c":-38},{"t":2001.875,"a":-23,"b":-43,"c":-34},{"t":2001.925,"a":-26,"b":-40,"c":-37},{"t":2001.975,"a":-22,"b":-42,"c":-35},
              {"t":2002.025,"a":-21,"b":-42,"c":-38},{"t":2002.075,"a":-23,"b":-41,"c":-37},{"t":2002.125,"a":-24,"b":-44,"c":-40},{"t":2002.175,"a":-26,"b":-43,"c":-33},{"t":2002.225,"a":-25,"b":-44,"c":-36},
              {"t":2002.275,"a":-29,"b":-42,"c":-39},{"t":2002.325,"a":-28,"b":-45,"c":-40},{"t":2002.375,"a":-26,"b":-40,"c":-36},{"t":2002.425,"a":-28,"b":-42,"c":-38},{"t":2002.475,"a":-27,"b":-35,"c":-20},
              {"t":2002.525,"a":-20,"b":-26,"c":-8},{"t":2002.575,"a":0,"b":-28,"c":-4},{"t":2002.625,"a":8,"b":-22,"c":10},{"t":2002.675,"a":0,"b":-18,"c":5},{"t":2002.725,"a":-4,"b":-25,"c":-10},
              {"t":2002.775,"a":-8,"b":-18,"c":-6},{"t":2002.825,"a":-6,"b":-15,"c":-8},{"t":2002.875,"a":-10,"b":-8,"c":-10},{"t":2002.925,"a":-7,"b":0,"c":-3},{"t":2002.975,"a":-6,"b":8,"c":5},
              {"t":2003.025,"a":-8,"b":8,"c":8},{"t":2003.075,"a":-6,"b":5,"c":5},{"t":2003.125,"a":-10,"b":12,"c":10},{"t":2003.175,"a":-4,"b":15,"c":4},{"t":2003.225,"a":-7,"b":22,"c":12},
              {"t":2003.275,"a":-5,"b":20,"c":6},{"t":2003.325,"a":-8,"b":25,"c":2},{"t":2003.375,"a":-6,"b":28,"c":12},{"t":2003.425,"a":-10,"b":32,"c":8},{"t":2003.475,"a":-2,"b":30,"c":10},
              {"t":2003.525,"a":-15,"b":10,"c":0},{"t":2003.575,"a":-24,"b":-5,"c":-5},{"t":2003.625,"a":-22,"b":-6,"c":-12},{"t":2003.675,"a":-27,"b":-12,"c":-14},{"t":2003.725,"a":-32,"b":-15,"c":-18},
              {"t":2003.775,"a":-30,"b":-20,"c":-16},{"t":2003.825,"a":-33,"b":-18,"c":-20},{"t":2003.875,"a":-35,"b":-22,"c":-15},{"t":2003.925,"a":-29,"b":-22,"c":-24},{"t":2003.975,"a":-32,"b":-24,"c":-18},
              {"t":2004.025,"a":-26,"b":-22,"c":-18},{"t":2004.075,"a":-28,"b":-20,"c":-14},{"t":2004.125,"a":-25,"b":-23,"c":-18},{"t":2004.175,"a":-24,"b":-24,"c":-16},{"t":2004.225,"a":-27,"b":-21,"c":-14},
              {"t":2004.275,"a":-24,"b":-24,"c":-20},{"t":2004.325,"a":-28,"b":-20,"c":-18},{"t":2004.375,"a":-26,"b":-23,"c":-22},{"t":2004.425,"a":-29,"b":-21,"c":-12},{"t":2004.475,"a":-27,"b":-24,"c":-5},
              {"t":2004.525,"a":-24,"b":-18,"c":5},{"t":2004.575,"a":-28,"b":-15,"c":3},{"t":2004.625,"a":-25,"b":-10,"c":8},{"t":2004.675,"a":-28,"b":-12,"c":2},{"t":2004.725,"a":-23,"b":-9,"c":6},
              {"t":2004.775,"a":-25,"b":-12,"c":8},{"t":2004.825,"a":-21,"b":-8,"c":10},{"t":2004.875,"a":-27,"b":-10,"c":5},{"t":2004.925,"a":-25,"b":-9,"c":12},{"t":2004.975,"a":-23,"b":-15,"c":10},
              {"t":2005.025,"a":-27,"b":-15,"c":3},{"t":2005.075,"a":-23,"b":-12,"c":0},{"t":2005.125,"a":-24,"b":-14,"c":-4},{"t":2005.175,"a":-18,"b":-18,"c":-1},{"t":2005.225,"a":-22,"b":-16,"c":-3},
              {"t":2005.275,"a":-20,"b":-18,"c":-2},{"t":2005.325,"a":-18,"b":-5,"c":-6},{"t":2005.375,"a":-25,"b":8,"c":-2},{"t":2005.425,"a":-18,"b":12,"c":-4},{"t":2005.475,"a":-21,"b":10,"c":-1},
              {"t":2005.525,"a":-20,"b":10,"c":-3},{"t":2005.575,"a":-16,"b":14,"c":-5},{"t":2005.625,"a":-14,"b":12,"c":-2},{"t":2005.675,"a":-11,"b":8,"c":-4},{"t":2005.725,"a":-15,"b":10,"c":-6},
              {"t":2005.775,"a":-12,"b":9,"c":-3},{"t":2005.825,"a":-13,"b":6,"c":-5},{"t":2005.875,"a":-16,"b":10,"c":-3},{"t":2005.925,"a":-12,"b":7,"c":-7},{"t":2005.975,"a":-14,"b":8,"c":-2},
              {"t":2006.025,"a":10,"b":11,"c":-5},{"t":2006.075,"a":15,"b":14,"c":-2},{"t":2006.125,"a":12,"b":12,"c":3},{"t":2006.175,"a":13,"b":13,"c":6},{"t":2006.225,"a":10,"b":10,"c":10},
              {"t":2006.275,"a":20,"b":14,"c":9},{"t":2006.325,"a":34,"b":12,"c":12},{"t":2006.375,"a":45,"b":17,"c":10},{"t":2006.425,"a":44,"b":15,"c":11},{"t":2006.475,"a":30,"b":19,"c":8},
              {"t":2006.525,"a":12,"b":16,"c":12},{"t":2006.575,"a":18,"b":19,"c":13},{"t":2006.625,"a":16,"b":17,"c":16},{"t":2006.675,"a":10,"b":16,"c":15},{"t":2006.725,"a":12,"b":20,"c":19},
              {"t":2006.775,"a":9,"b":18,"c":18},{"t":2006.825,"a":6,"b":17,"c":20},{"t":2006.875,"a":8,"b":19,"c":22},{"t":2006.925,"a":4,"b":16,"c":17},{"t":2006.975,"a":0,"b":15,"c":18},
              {"t":2007.025,"a":1,"b":10,"c":15},{"t":2007.075,"a":-2,"b":7,"c":16},{"t":2007.125,"a":-5,"b":9,"c":18},{"t":2007.175,"a":-1,"b":6,"c":16},{"t":2007.225,"a":-4,"b":8,"c":18},
              {"t":2007.275,"a":-3,"b":4,"c":20},{"t":2007.325,"a":-10,"b":0,"c":25},{"t":2007.375,"a":-14,"b":-1,"c":24},{"t":2007.425,"a":-18,"b":-2,"c":26},{"t":2007.475,"a":-16,"b":2,"c":28},
              {"t":2007.525,"a":-12,"b":6,"c":32},{"t":2007.575,"a":-15,"b":9,"c":30},{"t":2007.625,"a":-12,"b":8,"c":34},{"t":2007.675,"a":-19,"b":7,"c":33},{"t":2007.725,"a":-15,"b":6,"c":35},
              {"t":2007.775,"a":-12,"b":9,"c":36},{"t":2007.825,"a":-10,"b":5,"c":31},{"t":2007.875,"a":-9,"b":10,"c":33},{"t":2007.925,"a":-8,"b":15,"c":31},{"t":2007.975,"a":-13,"b":12,"c":35},
              {"t":2008.025,"a":-8,"b":10,"c":25},{"t":2008.075,"a":-10,"b":3,"c":24},{"t":2008.125,"a":-12,"b":5,"c":21},{"t":2008.175,"a":-11,"b":1,"c":24},{"t":2008.225,"a":-8,"b":2,"c":22},
              {"t":2008.275,"a":5,"b":4,"c":35},{"t":2008.325,"a":12,"b":3,"c":45},{"t":2008.375,"a":20,"b":0,"c":52},{"t":2008.425,"a":16,"b":4,"c":50},{"t":2008.475,"a":14,"b":2,"c":56},
              {"t":2008.525,"a":20,"b":1,"c":55},{"t":2008.575,"a":18,"b":5,"c":52},{"t":2008.625,"a":22,"b":3,"c":58},{"t":2008.675,"a":12,"b":4,"c":65},{"t":2008.725,"a":25,"b":15,"c":62},
              {"t":2008.775,"a":18,"b":25,"c":72},{"t":2008.825,"a":26,"b":22,"c":70},{"t":2008.875,"a":35,"b":28,"c":68},{"t":2008.925,"a":45,"b":25,"c":60},{"t":2008.975,"a":35,"b":22,"c":62},
              {"t":2009.025,"a":38,"b":22,"c":64},{"t":2009.075,"a":32,"b":28,"c":58},{"t":2009.125,"a":40,"b":26,"c":53},{"t":2009.175,"a":35,"b":30,"c":56},{"t":2009.225,"a":32,"b":25,"c":54},
              {"t":2009.275,"a":30,"b":32,"c":55},{"t":2009.325,"a":36,"b":28,"c":62},{"t":2009.375,"a":30,"b":35,"c":68},{"t":2009.425,"a":32,"b":33,"c":76},{"t":2009.475,"a":38,"b":36,"c":84},
              {"t":2009.525,"a":35,"b":38,"c":80},{"t":2009.575,"a":40,"b":35,"c":85},{"t":2009.625,"a":30,"b":40,"c":86},{"t":2009.675,"a":35,"b":36,"c":92},{"t":2009.725,"a":25,"b":33,"c":88},
              {"t":2009.775,"a":15,"b":28,"c":62},{"t":2009.825,"a":18,"b":30,"c":56},{"t":2009.875,"a":10,"b":25,"c":58},{"t":2009.925,"a":12,"b":22,"c":57},{"t":2009.975,"a":10,"b":16,"c":52},
              {"t":2010.025,"a":10,"b":8,"c":48},{"t":2010.075,"a":0,"b":3,"c":40},{"t":2010.125,"a":-8,"b":-2,"c":44},{"t":2010.175,"a":-12,"b":-6,"c":35},{"t":2010.225,"a":-18,"b":-4,"c":30},
              {"t":2010.275,"a":-16,"b":-8,"c":38},{"t":2010.325,"a":-22,"b":-7,"c":32},{"t":2010.375,"a":-26,"b":-9,"c":38},{"t":2010.425,"a":-24,"b":-4,"c":40},{"t":2010.475,"a":-25,"b":-5,"c":42},
              {"t":2010.525,"a":-18,"b":5,"c":45},{"t":2010.575,"a":-14,"b":12,"c":50},{"t":2010.625,"a":-12,"b":16,"c":48},{"t":2010.675,"a":-13,"b":14,"c":52},{"t":2010.725,"a":-10,"b":16,"c":50},
              {"t":2010.775,"a":-8,"b":17,"c":56},{"t":2010.825,"a":-10,"b":13,"c":62},{"t":2010.875,"a":-7,"b":15,"c":60},{"t":2010.925,"a":-9,"b":14,"c":68},{"t":2010.975,"a":-6,"b":16,"c":65},
              {"t":2011.025,"a":-8,"b":16,"c":66},{"t":2011.075,"a":-6,"b":14,"c":60},{"t":2011.125,"a":-7,"b":18,"c":62},{"t":2011.175,"a":-9,"b":15,"c":58},{"t":2011.225,"a":-6,"b":19,"c":68},
              {"t":2011.275,"a":-8,"b":25,"c":60},{"t":2011.325,"a":-2,"b":36,"c":56},{"t":2011.375,"a":2,"b":42,"c":54},{"t":2011.425,"a":0,"b":50,"c":45},{"t":2011.475,"a":5,"b":52,"c":50},
              {"t":2011.525,"a":6,"b":56,"c":40},{"t":2011.575,"a":10,"b":68,"c":45},{"t":2011.625,"a":8,"b":82,"c":48},{"t":2011.675,"a":13,"b":80,"c":42},{"t":2011.725,"a":11,"b":75,"c":48},
              {"t":2011.775,"a":10,"b":55,"c":46},{"t":2011.825,"a":9,"b":58,"c":30},{"t":2011.875,"a":12,"b":56,"c":14},{"t":2011.925,"a":18,"b":55,"c":15},{"t":2011.975,"a":28,"b":62,"c":20},
              {"t":2012.025,"a":30,"b":64,"c":14},{"t":2012.075,"a":28,"b":58,"c":18},{"t":2012.125,"a":32,"b":65,"c":22},{"t":2012.175,"a":26,"b":62,"c":20},{"t":2012.225,"a":15,"b":60,"c":10},
              {"t":2012.275,"a":14,"b":52,"c":0},{"t":2012.325,"a":12,"b":48,"c":-8},{"t":2012.375,"a":13,"b":50,"c":-15},{"t":2012.425,"a":12,"b":46,"c":-20},{"t":2012.475,"a":14,"b":52,"c":-25},
              {"t":2012.525,"a":8,"b":50,"c":-32},{"t":2012.575,"a":6,"b":48,"c":-34},{"t":2012.625,"a":14,"b":52,"c":-38},{"t":2012.675,"a":12,"b":45,"c":-35},{"t":2012.725,"a":13,"b":38,"c":-45},
              {"t":2012.775,"a":11,"b":40,"c":-54},{"t":2012.825,"a":14,"b":34,"c":-52},{"t":2012.875,"a":12,"b":36,"c":-56},{"t":2012.925,"a":13,"b":34,"c":-55},{"t":2012.975,"a":6,"b":30,"c":-57},
              {"t":2013.025,"a":-4,"b":30,"c":-57},{"t":2013.075,"a":-3,"b":32,"c":-54},{"t":2013.125,"a":-5,"b":28,"c":-55},{"t":2013.175,"a":-1,"b":30,"c":-53},{"t":2013.225,"a":-3,"b":35,"c":-56},
              {"t":2013.275,"a":0,"b":50,"c":-50},{"t":2013.325,"a":8,"b":70,"c":-47},{"t":2013.375,"a":12,"b":62,"c":-46},{"t":2013.425,"a":10,"b":52,"c":-49},{"t":2013.475,"a":12,"b":55,"c":-48},
              {"t":2013.525,"a":9,"b":48,"c":-49},{"t":2013.575,"a":10,"b":50,"c":-45},{"t":2013.625,"a":16,"b":48,"c":-47},{"t":2013.675,"a":19,"b":50,"c":-47},{"t":2013.725,"a":17,"b":52,"c":-48},
              {"t":2013.775,"a":18,"b":47,"c":-47},{"t":2013.825,"a":12,"b":50,"c":-50},{"t":2013.875,"a":6,"b":50,"c":-49},{"t":2013.925,"a":8,"b":48,"c":-48},{"t":2013.975,"a":6,"b":54,"c":-51},
              {"t":2014.025,"a":5,"b":50,"c":-50},{"t":2014.075,"a":3,"b":51,"c":-51},{"t":2014.125,"a":12,"b":53,"c":-53},{"t":2014.175,"a":16,"b":57,"c":-54},{"t":2014.225,"a":18,"b":62,"c":-52},
              {"t":2014.275,"a":25,"b":60,"c":-40},{"t":2014.325,"a":36,"b":62,"c":-32},{"t":2014.375,"a":34,"b":58,"c":-34},{"t":2014.425,"a":38,"b":50,"c":-33},{"t":2014.475,"a":34,"b":40,"c":-30},
              {"t":2014.525,"a":33,"b":32,"c":-31},{"t":2014.575,"a":42,"b":35,"c":-26},{"t":2014.625,"a":54,"b":30,"c":-21},{"t":2014.675,"a":50,"b":24,"c":-23},{"t":2014.725,"a":48,"b":30,"c":-18},
              {"t":2014.775,"a":42,"b":34,"c":-22},{"t":2014.825,"a":36,"b":25,"c":-27},{"t":2014.875,"a":34,"b":16,"c":-29},{"t":2014.925,"a":36,"b":10,"c":-28},{"t":2014.975,"a":30,"b":4,"c":-30},
              {"t":2015.025,"a":25,"b":2,"c":-33},{"t":2015.075,"a":35,"b":0,"c":-37},{"t":2015.125,"a":42,"b":-3,"c":-36},{"t":2015.175,"a":40,"b":-8,"c":-35},{"t":2015.225,"a":41,"b":-6,"c":-34},
              {"t":2015.275,"a":44,"b":-5,"c":-37},{"t":2015.325,"a":42,"b":-10,"c":-39},{"t":2015.375,"a":50,"b":-9,"c":-41},{"t":2015.425,"a":62,"b":-12,"c":-40},{"t":2015.475,"a":68,"b":-18,"c":-41},
              {"t":2015.525,"a":75,"b":-22,"c":-39},{"t":2015.575,"a":70,"b":-28,"c":-35},{"t":2015.625,"a":66,"b":-33,"c":-35},{"t":2015.675,"a":74,"b":-30,"c":-34},{"t":2015.725,"a":65,"b":-30,"c":-35},
              {"t":2015.775,"a":50,"b":-42,"c":-40},{"t":2015.825,"a":50,"b":-52,"c":-43},{"t":2015.875,"a":46,"b":-53,"c":-44},{"t":2015.925,"a":48,"b":-55,"c":-43},{"t":2015.975,"a":46,"b":-50,"c":-44},
              {"t":2016.025,"a":50,"b":-54,"c":-45},{"t":2016.075,"a":46,"b":-50,"c":-44},{"t":2016.125,"a":36,"b":-46,"c":-45},{"t":2016.175,"a":40,"b":-48,"c":-47},{"t":2016.225,"a":50,"b":-45,"c":-46},
              {"t":2016.275,"a":58,"b":-44,"c":-48},{"t":2016.325,"a":65,"b":-46,"c":-49},{"t":2016.375,"a":70,"b":-48,"c":-50},{"t":2016.425,"a":75,"b":-47,"c":-50},{"t":2016.475,"a":70,"b":-44,"c":-50},
              {"t":2016.525,"a":68,"b":-46,"c":-49},{"t":2016.575,"a":66,"b":-46,"c":-50},{"t":2016.625,"a":60,"b":-48,"c":0},{"t":2016.675,"a":48,"b":-48,"c":0},{"t":2016.725,"a":42,"b":-46,"c":0},
              {"t":2016.775,"a":40,"b":-47,"c":0},{"t":2016.825,"a":41,"b":-47,"c":0},{"t":2016.875,"a":44,"b":-48,"c":0},{"t":2016.925,"a":42,"b":-49,"c":0},{"t":2016.975,"a":43,"b":-47,"c":0},
              {"t":2017.025,"a":48,"b":-48,"c":0},{"t":2017.075,"a":50,"b":-52,"c":0},{"t":2017.125,"a":54,"b":-54,"c":0},{"t":2017.175,"a":52,"b":-52,"c":0},{"t":2017.225,"a":56,"b":-53,"c":0},
              {"t":2017.275,"a":40,"b":-48,"c":0},{"t":2017.325,"a":30,"b":-44,"c":0},{"t":2017.375,"a":32,"b":-43,"c":0},{"t":2017.425,"a":30,"b":-44,"c":0},{"t":2017.475,"a":22,"b":-43,"c":0},
              {"t":2017.525,"a":12,"b":-44,"c":0},{"t":2017.575,"a":14,"b":-40,"c":0},{"t":2017.625,"a":8,"b":-40,"c":0},{"t":2017.675,"a":3,"b":-41,"c":0},{"t":2017.725,"a":5,"b":-43,"c":0},
              {"t":2017.775,"a":1,"b":-42,"c":0},{"t":2017.825,"a":0,"b":-40,"c":0},{"t":2017.875,"a":-10,"b":-43,"c":0},{"t":2017.925,"a":-17,"b":-41,"c":0},{"t":2017.975,"a":-20,"b":-39,"c":0},
              {"t":2018.025,"a":-20,"b":-42,"c":0},{"t":2018.075,"a":-18,"b":-45,"c":0},{"t":2018.125,"a":-17,"b":-48,"c":0},{"t":2018.175,"a":-19,"b":-49,"c":0},{"t":2018.225,"a":-19,"b":-46,"c":0},
              {"t":2018.275,"a":-20,"b":-52,"c":0},{"t":2018.325,"a":-26,"b":-60,"c":0},{"t":2018.375,"a":-33,"b":-61,"c":0},{"t":2018.425,"a":-38,"b":-59,"c":0},{"t":2018.475,"a":-36,"b":-60,"c":0},
              {"t":2018.525,"a":-36,"b":-59,"c":0},{"t":2018.575,"a":-45,"b":-56,"c":0},{"t":2018.625,"a":-52,"b":-58,"c":0},{"t":2018.675,"a":-57,"b":-58,"c":0},{"t":2018.725,"a":-60,"b":-60,"c":0},
              {"t":2018.775,"a":-59,"b":-60,"c":0},{"t":2018.825,"a":-58,"b":-57,"c":0},{"t":2018.875,"a":-62,"b":-58,"c":0},{"t":2018.925,"a":-60,"b":-59,"c":0},{"t":2018.975,"a":-61,"b":-61,"c":0},
              {"t":2019.025,"a":-64,"b":-60,"c":0},{"t":2019.075,"a":-63,"b":-59,"c":0},{"t":2019.125,"a":-62,"b":-58,"c":0},{"t":2019.175,"a":-65,"b":-61,"c":0},{"t":2019.225,"a":-64,"b":-60,"c":0},
              {"t":2019.275,"a":-63,"b":-62,"c":0},{"t":2019.325,"a":-59,"b":-64,"c":0},{"t":2019.375,"a":-58,"b":-63,"c":0},{"t":2019.425,"a":-61,"b":-63,"c":0},{"t":2019.475,"a":-60,"b":-63,"c":0},
              {"t":2019.525,"a":-59,"b":-66,"c":0},{"t":2019.575,"a":-60,"b":0,"c":0},{"t":2019.625,"a":-61,"b":0,"c":0},{"t":2019.675,"a":-61,"b":0,"c":0},{"t":2019.725,"a":-59,"b":0,"c":0},
              {"t":2019.775,"a":-60,"b":0,"c":0},{"t":2019.825,"a":-60,"b":0,"c":0},{"t":2019.875,"a":-61,"b":0,"c":0},{"t":2019.925,"a":-61,"b":0,"c":0},{"t":2019.975,"a":-59,"b":0,"c":0},
              {"t":2020.025,"a":-59,"b":0,"c":0},{"t":2020.075,"a":-63,"b":0,"c":0},{"t":2020.125,"a":-70,"b":0,"c":0},{"t":2020.175,"a":-71,"b":0,"c":0},{"t":2020.225,"a":-68,"b":0,"c":0},
              {"t":2020.275,"a":-62,"b":0,"c":0},{"t":2020.325,"a":-59,"b":0,"c":0},{"t":2020.375,"a":-60,"b":0,"c":0},{"t":2020.425,"a":-60,"b":0,"c":0},{"t":2020.475,"a":-60,"b":0,"c":0},
              {"t":2020.525,"a":-60,"b":0,"c":0},{"t":2020.575,"a":-56,"b":0,"c":0},{"t":2020.625,"a":-51,"b":0,"c":0},{"t":2020.675,"a":-52,"b":0,"c":0},{"t":2020.725,"a":-52,"b":0,"c":0},
              {"t":2020.775,"a":-55,"b":0,"c":0},{"t":2020.825,"a":-59,"b":0,"c":0},{"t":2020.875,"a":-60,"b":0,"c":0},{"t":2020.925,"a":-60,"b":0,"c":0},{"t":2020.975,"a":-60,"b":0,"c":0},
              {"t":2021.025,"a":-59,"b":0,"c":0},{"t":2021.075,"a":-60,"b":0,"c":0},{"t":2021.125,"a":-60,"b":0,"c":0},{"t":2021.175,"a":-61,"b":0,"c":0},{"t":2021.225,"a":-65,"b":0,"c":0},
              {"t":2021.275,"a":-65,"b":0,"c":0},{"t":2021.325,"a":-64,"b":0,"c":0},{"t":2021.375,"a":-64,"b":0,"c":0},{"t":2021.425,"a":-65,"b":0,"c":0},{"t":2021.475,"a":-62,"b":0,"c":0},
              {"t":2021.525,"a":-57,"b":0,"c":0},{"t":2021.575,"a":-55,"b":0,"c":0},{"t":2021.625,"a":-51,"b":0,"c":0},{"t":2021.675,"a":-52,"b":0,"c":0},{"t":2021.725,"a":-52,"b":0,"c":0},
              {"t":2021.775,"a":-50,"b":0,"c":0},{"t":2021.825,"a":-48,"b":0,"c":0},{"t":2021.875,"a":-45,"b":0,"c":0},{"t":2021.925,"a":-45,"b":0,"c":0},{"t":2021.975,"a":-43,"b":0,"c":0},
              {"t":2022.025,"a":-41,"b":0,"c":0},{"t":2022.075,"a":-42,"b":0,"c":0},{"t":2022.125,"a":-40,"b":0,"c":0},{"t":2022.175,"a":-40,"b":0,"c":0},{"t":2022.225,"a":-40,"b":0,"c":0},
              {"t":2022.275,"a":-41,"b":0,"c":0},{"t":2022.325,"a":-40,"b":0,"c":0},{"t":2022.375,"a":-37,"b":0,"c":0},{"t":2022.425,"a":-37,"b":0,"c":0},{"t":2022.475,"a":-35,"b":0,"c":0},
              {"t":2022.525,"a":-35,"b":0,"c":0},{"t":2022.575,"a":-34,"b":0,"c":0},{"t":2022.625,"a":-32,"b":0,"c":0},{"t":2022.675,"a":0,"b":0,"c":0},{"t":2022.725,"a":0,"b":0,"c":0},
              {"t":2022.775,"a":0,"b":0,"c":0},{"t":2022.825,"a":0,"b":0,"c":0},{"t":2022.875,"a":0,"b":0,"c":0},{"t":2022.925,"a":0,"b":0,"c":0},{"t":2022.975,"a":0,"b":0,"c":0}
            ]
          },
          "layer": [
            {
              "mark": {"type": "rule", "color": "#bfbfbf", "strokeWidth": 2.5},
              "encoding": {"y": {"datum": -63, "type": "quantitative"}}
            },
            {
              "mark": {"type": "point", "filled": false, "opacity": 1, "size": 90, "strokeWidth": 2},
              "encoding": {
                "x": {
                  "field": "t", "type": "quantitative",
                  "scale": {"domain": [1997, 2023], "nice": false, "zero": false},
                  "axis": {
                    "title": null, "values": [1997, 1999, 2001, 2003, 2005, 2007, 2009, 2011, 2013, 2015, 2017, 2019, 2021],
                    "labelExpr": "'01/01/' + datum.value",
                    "grid": true, "gridColor": "#d9d9d9", "gridWidth": 2,
                    "domain": false, "ticks": false, "labelPadding": 30, "labelFlush": false
                  }
                },
                "y": {
                  "field": "a", "type": "quantitative",
                  "scale": {"domain": [-100, 120], "nice": false, "zero": false},
                  "axis": {
                    "title": null, "values": [-100, -80, -60, -40, -20, 0, 20, 40, 60, 80, 100, 120],
                    "labelExpr": "datum.value < 0 ? '- ' + (-datum.value) + '%' : datum.value + '%'",
                    "grid": true, "gridColor": "#d9d9d9", "gridWidth": 2,
                    "domain": false, "ticks": false, "labelPadding": 20
                  }
                },
                "color": {
                  "datum": "Rendement_A04",
                  "scale": {"domain": ["Rendement_A04", "Rendement_A07", "Rendement_A10", "0,0%"], "range": ["#ffc000", "#0070c0", "#ff0000", "#000000"]},
                  "legend": {
                    "title": null, "orient": "none", "legendX": 1808, "legendY": 199,
                    "fillColor": "white", "padding": 12, "symbolOffset": 9,
                    "symbolSize": 100, "symbolStrokeWidth": 2,
                    "labelFontSize": 31, "labelColor": "#595959", "labelOffset": 15, "labelLimit": 400, "rowPadding": 32
                  }
                },
                "shape": {
                  "datum": "Rendement_A04",
                  "scale": {"domain": ["Rendement_A04", "Rendement_A07", "Rendement_A10", "0,0%"], "range": ["M-1,0L1,0M0,-1L0,1", "M-1,0L1,0M0,-1L0,1", "M-1,0L1,0M0,-1L0,1", "M-4.8,-0.3L4.8,-0.3M-4.8,0L4.8,0M-4.8,0.3L4.8,0.3"]},
                  "legend": {"title": null}
                }
              }
            },
            {
              "mark": {"type": "point", "filled": false, "opacity": 1, "size": 90, "strokeWidth": 2},
              "encoding": {
                "x": {"field": "t", "type": "quantitative"},
                "y": {"field": "b", "type": "quantitative"},
                "color": {"datum": "Rendement_A07"},
                "shape": {"datum": "Rendement_A07"}
              }
            },
            {
              "mark": {"type": "point", "filled": false, "opacity": 1, "size": 90, "strokeWidth": 2},
              "encoding": {
                "x": {"field": "t", "type": "quantitative"},
                "y": {"field": "c", "type": "quantitative"},
                "color": {"datum": "Rendement_A10"},
                "shape": {"datum": "Rendement_A10"}
              }
            },
            {
              "mark": {"type": "rule", "strokeWidth": 5.5},
              "encoding": {
                "x": {"datum": 1997, "type": "quantitative"},
                "x2": {"datum": 2016.57},
                "y": {"datum": 0, "type": "quantitative"},
                "color": {"datum": "0,0%"}
              }
            }
          ]
        }
      ]
    }
  ]
}
